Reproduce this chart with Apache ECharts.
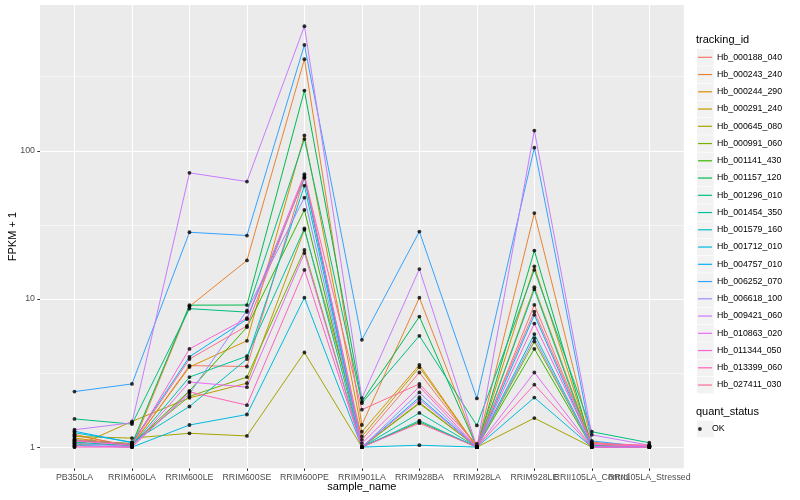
<!DOCTYPE html>
<html><head><meta charset="utf-8">
<script src="https://cdn.jsdelivr.net/npm/echarts@6/dist/echarts.min.js"></script>
<style>html,body{margin:0;padding:0;background:#fff}#c{width:800px;height:500px}</style>
</head><body><div id="c"></div>
<script>
const categories = ['PB350LA','RRIM600LA','RRIM600LE','RRIM600SE','RRIM600PE','RRIM901LA','RRIM928BA','RRIM928LA','RRIM928LE','RRII105LA_Control','RRII105LA_Stressed'];
const trackingIds = ['Hb_000188_040','Hb_000243_240','Hb_000244_290','Hb_000291_240','Hb_000645_080','Hb_000991_060','Hb_001141_430','Hb_001157_120','Hb_001296_010','Hb_001454_350','Hb_001579_160','Hb_001712_010','Hb_004757_010','Hb_006252_070','Hb_006618_100','Hb_009421_060','Hb_010863_020','Hb_011344_050','Hb_013399_060','Hb_027411_030'];
const quantStatus = ['OK'];

// FPKM + 1 per series, in category order
const hb_000188_040 = [1.20, 1.02, 3.55, 3.50, 66,   1.12, 3.19, 1.00, 9.12, 1.05, 1.02];
const hb_000243_240 = [1.22, 1.00, 8.9,  18.2, 415,  1.41, 10.2, 1.00, 38,   1.08, 1.00];
const hb_000244_290 = [1.15, 1.03, 3.47, 5.22, 127,  1.27, 3.59, 1.00, 16.6, 1.02, 1.01];
const hb_000291_240 = [1.00, 1.49, 2.15, 2.70, 29.3, 1.18, 3.46, 1.00, 12.0, 1.03, 1.00];
const hb_000645_080 = [1.18, 1.15, 1.24, 1.19, 4.35, 1.00, 2.00, 1.00, 1.57, 1.00, 1.00];
const hb_000991_060 = [1.10, 1.06, 2.20, 2.97, 21.4, 1.00, 1.97, 1.00, 5.16, 1.01, 1.00];
const hb_001141_430 = [1.05, 1.04, 2.40, 6.45, 39.9, 1.00, 1.48, 1.00, 4.61, 1.00, 1.01];
const hb_001157_120 = [1.12, 1.05, 9.08, 9.10, 255,  2.03, 7.60, 1.00, 21.2, 1.02, 1.00];
const hb_001296_010 = [1.55, 1.43, 8.60, 8.15, 120,  1.98, 5.64, 1.40, 15.7, 1.27, 1.07];
const hb_001454_350 = [1.08, 1.02, 2.97, 4.11, 29.9, 1.00, 1.70, 1.00, 11.6, 1.00, 1.00];
const hb_001579_160 = [1.25, 1.08, 1.88, 3.93, 58.2, 1.00, 1.51, 1.00, 5.79, 1.01, 1.00];
const hb_001712_010 = [1.03, 1.00, 1.41, 1.66, 10.2, 1.00, 1.03, 1.00, 2.16, 1.00, 1.00];
const hb_004757_010 = [1.28, 1.07, 4.07, 7.30, 65.6, 1.00, 2.17, 1.00, 7.81, 1.02, 1.00];
const hb_006252_070 = [2.37, 2.67, 28.2, 26.8, 518,  5.30, 28.5, 2.13, 105,  1.10, 1.00];
const hb_006618_100 = [1.06, 1.01, 2.29, 8.35, 48.3, 1.00, 2.34, 1.00, 5.44, 1.00, 1.00];
const hb_009421_060 = [1.31, 1.46, 71,   62,   693,  2.14, 15.9, 1.00, 137,  1.21, 1.03];
const hb_010863_020 = [1.02, 1.00, 2.75, 2.54, 20.4, 1.00, 2.10, 1.00, 3.19, 1.00, 1.00];
const hb_011344_050 = [1.10, 1.03, 4.60, 7.42, 69.5, 1.06, 2.56, 1.00, 6.82, 1.04, 1.02];
const hb_013399_060 = [1.00, 1.00, 2.36, 1.92, 15.7, 1.00, 1.45, 1.00, 2.64, 1.00, 1.00];
const hb_027411_030 = [1.12, 1.05, 3.93, 6.58, 67.7, 1.79, 2.67, 1.05, 8.22, 1.06, 1.03];

const seriesValues = [hb_000188_040, hb_000243_240, hb_000244_290, hb_000291_240, hb_000645_080,
  hb_000991_060, hb_001141_430, hb_001157_120, hb_001296_010, hb_001454_350, hb_001579_160,
  hb_001712_010, hb_004757_010, hb_006252_070, hb_006618_100, hb_009421_060, hb_010863_020,
  hb_011344_050, hb_013399_060, hb_027411_030];

const yTickLabels = [1, 10, 100];
const yMinorBreaks = [3.16228, 31.6228, 316.228];

const palette = ['#F8766D','#EA8331','#D89000','#C09B00','#A3A500','#7CAE00','#39B600','#00BB4E','#00BF7D','#00C1A3','#00BFC4','#00BAE0','#00B0F6','#35A2FF','#9590FF','#C77CFF','#E76BF3','#FA62DB','#FF62BC','#FF6C91'];

const FONT = '"Liberation Sans", Arial, Helvetica, sans-serif';
const PL = 40, PR = 683.8, PT = 5, PB = 468.2;
const YMIN = 0.7206, YMAX = 964;
const xIdx = categories.map((_, i) => i);
const xIdxEven = xIdx.filter(i => i % 2 === 0);
const xIdxOdd = xIdx.filter(i => i % 2 === 1);

const chart = echarts.init(document.getElementById('c'), null, {renderer: 'canvas'});

const lineSeries = trackingIds.map((id, i) => ({
  type: 'line', name: id, xAxisIndex: 0, yAxisIndex: 0,
  data: seriesValues[i].map((v, j) => [j, v]),
  symbol: 'none', silent: true,
  lineStyle: {color: palette[i], width: 1},
  itemStyle: {color: palette[i]},
  z: 2
}));

const points = [];
seriesValues.forEach(arr => arr.forEach((v, j) => points.push([j, v])));

const pointSeries = {
  type: 'scatter', name: quantStatus[0], xAxisIndex: 0, yAxisIndex: 0,
  data: points, symbol: 'circle', symbolSize: 3.8,
  itemStyle: {color: '#000'}, z: 5, silent: true
};

const graphics = [];
trackingIds.forEach((_, i) => {
  const cy = 57.3 + i * 17.25;
  graphics.push({type: 'rect', left: 697, top: cy - 8.3, shape: {width: 16.6, height: 16.6}, style: {fill: '#F2F2F2'}, z: -1});
});
graphics.push({type: 'rect', left: 697, top: 429 - 8.3, shape: {width: 16.6, height: 16.6}, style: {fill: '#F2F2F2'}, z: -1});
graphics.push({type: 'text', left: 696, top: 34.5, style: {text: 'tracking_id', font: '11px ' + FONT, fill: '#000'}});
graphics.push({type: 'text', left: 696, top: 406, style: {text: 'quant_status', font: '11px ' + FONT, fill: '#000'}});

const baseY = {type: 'log', logBase: 10, min: YMIN, max: YMAX, position: 'left', offset: 0,
  axisLine: {show: false, onZero: false}, splitLine: {show: false}, minorTick: {show: false}};
const baseX = {type: 'value', min: -0.6, max: 10.6, position: 'bottom',
  axisLine: {show: false, onZero: false}, splitLine: {show: false}, minorTick: {show: false}};
const xLabelStyle = {color: '#4D4D4D', fontSize: 8.8, margin: 5, fontFamily: FONT, hideOverlap: false,
  formatter: v => categories[Math.round(v)]};

const option = {
  animation: false,
  backgroundColor: '#fff',
  textStyle: {fontFamily: FONT},
  grid: {left: PL, right: 800 - PR, top: PT, bottom: 500 - PB, show: true, backgroundColor: '#EBEBEB', borderWidth: 0,
         containLabel: false, outerBoundsMode: 'none'},
  xAxis: [
    Object.assign({}, baseX, {
     axisTick: {show: true, customValues: xIdx, length: 2.7, lineStyle: {color: '#333', width: 1}},
     axisLabel: Object.assign({customValues: xIdxEven}, xLabelStyle),
     name: 'sample_name', nameLocation: 'middle', nameGap: 13.3, nameMoveOverlap: false,
     nameTextStyle: {color: '#000', fontSize: 11, fontFamily: FONT, verticalAlign: 'top'}}),
    Object.assign({}, baseX, {
     axisLabel: Object.assign({customValues: xIdxOdd}, xLabelStyle),
     axisTick: {show: true, customValues: xIdx, inside: true, length: PB - PT, lineStyle: {color: '#fff', width: 1.1}}})
  ],
  yAxis: [
    Object.assign({}, baseY, {
      axisTick: {show: true, customValues: yTickLabels, length: 2.7, lineStyle: {color: '#333', width: 1}},
      axisLabel: {customValues: yTickLabels, formatter: v => String(Math.round(v)), color: '#4D4D4D', fontSize: 8.8, margin: 5,
                  fontFamily: FONT, hideOverlap: false},
      name: 'FPKM + 1', nameLocation: 'middle', nameGap: 22, nameRotate: 90, nameMoveOverlap: false,
      nameTextStyle: {color: '#000', fontSize: 11, fontFamily: FONT}}),
    Object.assign({}, baseY, {axisLabel: {show: false},
      axisTick: {show: true, customValues: yTickLabels, inside: true, length: PR - PL, lineStyle: {color: '#fff', width: 1.1}}}),
    Object.assign({}, baseY, {axisLabel: {show: false},
      axisTick: {show: true, customValues: yMinorBreaks, inside: true, length: PR - PL, lineStyle: {color: '#fff', width: 0.55}}})
  ],
  legend: [
    {data: trackingIds, orient: 'vertical', left: 698, top: 51.3, padding: 0, itemGap: 5.25,
     itemWidth: 14, itemHeight: 1.2, icon: 'rect', selectedMode: false,
     textStyle: {fontSize: 8.8, color: '#000', lineHeight: 12, fontFamily: FONT}},
    {data: quantStatus, orient: 'vertical', left: 698, top: 423, padding: 0,
     itemWidth: 14, itemHeight: 3.8, icon: 'circle', selectedMode: false,
     textStyle: {fontSize: 8.8, color: '#000', lineHeight: 12, fontFamily: FONT}}
  ],
  graphic: graphics,
  series: lineSeries.concat([pointSeries])
};
chart.setOption(option);
</script>
</body></html>
